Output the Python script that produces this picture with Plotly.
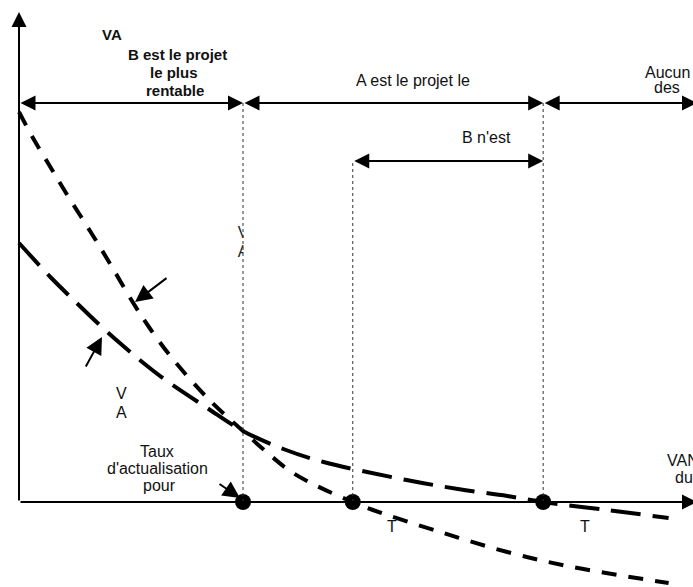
import plotly.graph_objects as go

# ---- data (discount rate in %, NPV in arbitrary units) ----
rate_B = [0, 0.6, 1.4, 2.1, 3.2, 4.1, 5.1, 5.8, 6.9, 8.5, 10.0, 11.1, 12.1, 13.3,
          14.9, 15.8, 18.8, 21.8, 24.7, 29.0]
npv_B = [39.0, 36.5, 33.5, 30.9, 27.0, 23.7, 19.9, 17.5, 14.2, 10.2, 7.1, 4.9, 3.1, 1.6,
         0.0, -0.8, -3.0, -5.0, -6.5, -8.1]
rate_A = [0, 1.4, 2.3, 3.6, 4.5, 5.5, 6.6, 8.4, 10.0, 11.8, 13.6, 17.3, 19.6, 21.8,
          23.4, 26.25, 29.0]
npv_A = [25.9, 22.5, 20.5, 17.7, 15.9, 14.0, 12.1, 9.4, 7.1, 5.3, 4.0, 2.2, 1.3, 0.6,
         0.0, -0.8, -1.6]
key_rates = [10.0, 14.9, 23.4]      # taux de Fisher, TRI de B, TRI de A
key_npv = [0, 0, 0]

W, H = 693, 587
OX, OY, SX, SY = 19, 502, 22.4, 10.0   # pixel origin and scale (layout only)


def X(px):
    return (px - OX) / SX


def Y(py):
    return (OY - py) / SY


FONT = "Liberation Sans, Arial, sans-serif"

fig = go.Figure()
fig.add_trace(go.Scatter(x=rate_B, y=npv_B, mode="lines", line_shape="spline",
                         line=dict(color="black", width=4, dash="15px,12px"),
                         hoverinfo="skip"))
fig.add_trace(go.Scatter(x=rate_A, y=npv_A, mode="lines", line_shape="spline",
                         line=dict(color="black", width=4, dash="30px,12px"),
                         hoverinfo="skip"))
fig.add_trace(go.Scatter(x=key_rates, y=key_npv, mode="markers",
                         marker=dict(color="black", size=16), hoverinfo="skip"))
# clipped label on the Fisher line
fig.add_trace(go.Scatter(x=[key_rates[0], key_rates[0]], y=[Y(234), Y(253)], mode="text",
                         text=["V", "A"], textposition="middle center",
                         textfont=dict(family=FONT, size=16, color="#222"),
                         hoverinfo="skip"))

shapes = []
top_y = Y(103)
mid_y = Y(161)
shapes.append(dict(type="rect", xref="x", yref="y", x0=key_rates[0] + 0.02, x1=key_rates[0] + 0.6,
                   y0=Y(265), y1=Y(222), fillcolor="white", line=dict(width=0), layer="above"))
for r, yt in zip(key_rates, [top_y, mid_y, top_y]):
    shapes.append(dict(type="line", xref="x", yref="y", x0=r, x1=r, y0=0, y1=yt,
                       line=dict(color="#333", width=1, dash="dot"), layer="above"))

ann = []


def arrow(x0, y0, x1, y1, both=False, size=1.5, width=2):
    ann.append(dict(x=x1, y=y1, ax=x0, ay=y0, xref="x", yref="y", axref="x", ayref="y",
                    text="", showarrow=True, arrowhead=2, arrowsize=size, arrowwidth=width,
                    arrowcolor="black", arrowside="end+start" if both else "end",
                    startarrowhead=2, startarrowsize=size, standoff=0, startstandoff=0))


def label(px, py, txt, size=16, bold=False, xanchor="center"):
    ann.append(dict(x=X(px), y=Y(py), xref="x", yref="y", text=f"<b>{txt}</b>" if bold else txt,
                    showarrow=False, xanchor=xanchor, yanchor="middle",
                    font=dict(family=FONT, size=size, color="#111")))


# axes
arrow(0, 0, 0, Y(12), size=1.5, width=2)
arrow(0, 0, X(697), 0, size=1.5, width=2)
# range arrows
arrow(0, top_y, key_rates[0], top_y, both=True)
arrow(key_rates[0], top_y, key_rates[2], top_y, both=True)
arrow(key_rates[2], top_y, X(697), top_y, both=True)
arrow(key_rates[1], mid_y, key_rates[2], mid_y, both=True)
# pointers
arrow(X(168), Y(277), X(135), Y(302), size=1.7, width=2)
arrow(X(85), Y(368), X(102), Y(337), size=1.7, width=2)
arrow(X(218), Y(483), X(240), Y(498), size=1.7, width=2)

# texts
label(112, 34, "VA", size=15, bold=True)
label(177, 54, "B est le projet", size=15, bold=True)
label(174, 72, "le plus", size=15, bold=True)
label(175, 90, "rentable", size=15, bold=True)
label(413, 80, "A est le projet le")
label(667, 72, "Aucun")
label(667, 87, "des")
label(486, 137, "B n'est")
label(121, 393, "V")
label(121, 412, "A")
label(157, 451, "Taux")
label(157, 468, "d'actualisation")
label(159, 485, "pour")
label(392, 526, "T")
label(585, 526, "T")
label(665, 460, "VAN", xanchor="left")
label(673, 477, "du", xanchor="left")

fig.update_layout(
    width=W, height=H, margin=dict(l=0, r=0, t=0, b=0),
    paper_bgcolor="white", plot_bgcolor="white", showlegend=False,
    xaxis=dict(range=[X(0), X(W)], visible=False, fixedrange=True),
    yaxis=dict(range=[Y(H), Y(0)], visible=False, fixedrange=True),
    shapes=shapes, annotations=ann,
)
fig.write_html("out.html", config={"displayModeBar": False},
               post_script="document.body.style.margin='0';document.body.style.overflow='hidden';")
